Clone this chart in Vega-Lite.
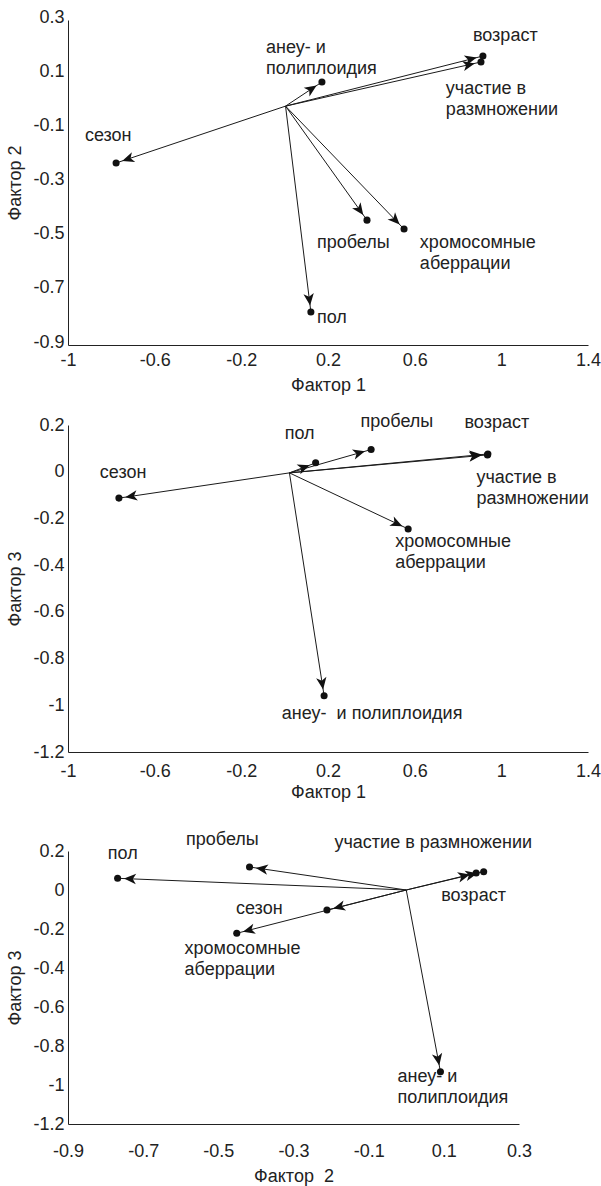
{
  "$schema": "https://vega.github.io/schema/vega-lite/v6.json",
  "background": "white",
  "padding": {"left": 6, "top": 8, "right": 5, "bottom": 5},
  "config": {
    "view": {"stroke": null},
    "font": "Liberation Sans",
    "axis": {"grid": false, "ticks": false, "domainColor": "#222", "domainWidth": 1, "labelFontSize": 18, "titleFontSize": 18, "titleFontWeight": "normal", "labelColor": "#222", "titleColor": "#222", "labelFont": "Liberation Sans", "titleFont": "Liberation Sans", "labelFlush": false, "labelOverlap": false, "tickCount": 12}
  },
  "datasets": {
    "v1": [
      {"var": "сезон", "x0": 0.004, "y0": -0.018, "x": -0.778, "y": -0.228},
      {"var": "анеу- и полиплоидия", "x0": 0.004, "y0": -0.018, "x": 0.172, "y": 0.071},
      {"var": "возраст", "x0": 0.004, "y0": -0.018, "x": 0.915, "y": 0.167},
      {"var": "участие в размножении", "x0": 0.004, "y0": -0.018, "x": 0.906, "y": 0.145},
      {"var": "пробелы", "x0": 0.004, "y0": -0.018, "x": 0.38, "y": -0.439},
      {"var": "хромосомные аберрации", "x0": 0.004, "y0": -0.018, "x": 0.551, "y": -0.472},
      {"var": "пол", "x0": 0.004, "y0": -0.018, "x": 0.121, "y": -0.778}
    ],
    "t1": [
      {"label": "анеу- и\nполиплоидия", "lx": -0.086, "ly": 0.197},
      {"label": "возраст", "lx": 0.869, "ly": 0.241},
      {"label": "участие в\nразмножении", "lx": 0.744, "ly": 0.045},
      {"label": "сезон", "lx": -0.922, "ly": -0.128},
      {"label": "пробелы", "lx": 0.149, "ly": -0.523},
      {"label": "хромосомные\nаберрации", "lx": 0.624, "ly": -0.523},
      {"label": "пол", "lx": 0.149, "ly": -0.8}
    ],
    "v2": [
      {"var": "сезон", "x0": 0.022, "y0": -0.005, "x": -0.765, "y": -0.113},
      {"var": "пол", "x0": 0.022, "y0": -0.005, "x": 0.143, "y": 0.038},
      {"var": "пробелы", "x0": 0.022, "y0": -0.005, "x": 0.399, "y": 0.095},
      {"var": "возраст", "x0": 0.022, "y0": -0.005, "x": 0.938, "y": 0.076},
      {"var": "участие в размножении", "x0": 0.022, "y0": -0.005, "x": 0.936, "y": 0.072},
      {"var": "хромосомные аберрации", "x0": 0.022, "y0": -0.005, "x": 0.57, "y": -0.245},
      {"var": "анеу- и полиплоидия", "x0": 0.022, "y0": -0.005, "x": 0.182, "y": -0.959}
    ],
    "t2": [
      {"label": "сезон", "lx": -0.853, "ly": -0.007},
      {"label": "пол", "lx": 0.0, "ly": 0.16},
      {"label": "пробелы", "lx": 0.35, "ly": 0.212},
      {"label": "возраст", "lx": 0.83, "ly": 0.208},
      {"label": "участие в\nразмножении", "lx": 0.885, "ly": -0.029},
      {"label": "хромосомные\nаберрации", "lx": 0.51, "ly": -0.3},
      {"label": "анеу-\u00a0 и полиплоидия", "lx": -0.013, "ly": -1.036}
    ],
    "v3": [
      {"var": "пол", "x0": 0.0, "y0": 0.0, "x": -0.768, "y": 0.06},
      {"var": "пробелы", "x0": 0.0, "y0": 0.0, "x": -0.417, "y": 0.118},
      {"var": "участие в размножении", "x0": 0.0, "y0": 0.0, "x": 0.206, "y": 0.094},
      {"var": "возраст", "x0": 0.0, "y0": 0.0, "x": 0.186, "y": 0.087},
      {"var": "сезон", "x0": 0.0, "y0": 0.0, "x": -0.211, "y": -0.103},
      {"var": "хромосомные аберрации", "x0": 0.0, "y0": 0.0, "x": -0.451, "y": -0.222},
      {"var": "анеу- и полиплоидия", "x0": 0.0, "y0": 0.0, "x": 0.091, "y": -0.932}
    ],
    "t3": [
      {"label": "пол", "lx": -0.794, "ly": 0.183},
      {"label": "пробелы", "lx": -0.586, "ly": 0.256},
      {"label": "участие в размножении", "lx": -0.191, "ly": 0.243},
      {"label": "возраст", "lx": 0.093, "ly": -0.031},
      {"label": "сезон", "lx": -0.453, "ly": -0.096},
      {"label": "хромосомные\nаберрации", "lx": -0.59, "ly": -0.304},
      {"label": "анеу- и\nполиплоидия", "lx": -0.023, "ly": -0.957}
    ]
  },
  "vconcat": [
    {
      "bounds": "flush",
      "spacing": 80,
      "vconcat": [
        {
          "width": 520,
          "height": 325,
          "layer": [
            {
              "data": {"name": "v1"},
              "mark": {"type": "rule", "color": "#1a1a1a", "strokeWidth": 1},
              "encoding": {
                "x": {"field": "x0", "type": "quantitative", "scale": {"domain": [-1, 1.4], "nice": false, "zero": false}, "axis": {"title": "Фактор 1", "values": [-1, -0.6, -0.2, 0.2, 0.6, 1, 1.4], "labelExpr": "replace(format(datum.value, '.1~f'), '\u2212', '-')", "labelPadding": 6, "titlePadding": 7, "labelOverlap": false, "tickCount": 12}},
                "y": {"field": "y0", "type": "quantitative", "scale": {"domain": [-0.9, 0.3], "nice": false, "zero": false}, "axis": {"title": "Фактор 2", "values": [0.3, 0.1, -0.1, -0.3, -0.5, -0.7, -0.9], "labelExpr": "replace(format(datum.value, '.1~f'), '\u2212', '-')", "labelPadding": 4, "titlePadding": 8, "labelOffset": -3, "labelOverlap": false, "tickCount": 12}},
                "x2": {"field": "x"},
                "y2": {"field": "y"}
              }
            },
            {
              "data": {"name": "v1"},
              "mark": {"type": "point", "filled": true, "shape": "circle", "size": 50, "color": "#111", "opacity": 1},
              "encoding": {
                "x": {"field": "x", "type": "quantitative", "title": "Фактор 1"},
                "y": {"field": "y", "type": "quantitative", "title": "Фактор 2"}
              }
            },
            {
              "data": {"name": "v1"},
              "transform": [{"calculate": "atan2((datum.x - datum.x0) * 216.7, (datum.y - datum.y0) * 270.8) * 180 / PI", "as": "ang"}],
              "mark": {"type": "point", "filled": true, "shape": "M0,0.8L0.65,2.3L0,1.9L-0.65,2.3Z", "size": 256, "color": "#111", "opacity": 1},
              "encoding": {
                "x": {"field": "x", "type": "quantitative", "title": "Фактор 1"},
                "y": {"field": "y", "type": "quantitative", "title": "Фактор 2"},
                "angle": {"field": "ang", "type": "quantitative", "scale": null}
              }
            },
            {
              "data": {"name": "t1"},
              "mark": {"type": "text", "align": "left", "baseline": "middle", "fontSize": 18, "lineBreak": "\n", "lineHeight": 21, "color": "#222"},
              "encoding": {
                "x": {"field": "lx", "type": "quantitative", "title": "Фактор 1"},
                "y": {"field": "ly", "type": "quantitative", "title": "Фактор 2"},
                "text": {"field": "label", "type": "nominal"}
              }
            }
          ]
        },
        {
          "width": 520,
          "height": 327,
          "layer": [
            {
              "data": {"name": "v2"},
              "mark": {"type": "rule", "color": "#1a1a1a", "strokeWidth": 1},
              "encoding": {
                "x": {"field": "x0", "type": "quantitative", "scale": {"domain": [-1, 1.4], "nice": false, "zero": false}, "axis": {"title": "Фактор 1", "values": [-1, -0.6, -0.2, 0.2, 0.6, 1, 1.4], "labelExpr": "replace(format(datum.value, '.1~f'), '\u2212', '-')", "labelPadding": 10, "titlePadding": 3, "labelOverlap": false, "tickCount": 12}},
                "y": {"field": "y0", "type": "quantitative", "scale": {"domain": [-1.2, 0.2], "nice": false, "zero": false}, "axis": {"title": "Фактор 3", "values": [0.2, 0, -0.2, -0.4, -0.6, -0.8, -1, -1.2], "labelExpr": "replace(format(datum.value, '.1~f'), '\u2212', '-')", "labelPadding": 4, "titlePadding": 8, "labelOverlap": false, "tickCount": 12}},
                "x2": {"field": "x"},
                "y2": {"field": "y"}
              }
            },
            {
              "data": {"name": "v2"},
              "mark": {"type": "point", "filled": true, "shape": "circle", "size": 50, "color": "#111", "opacity": 1},
              "encoding": {
                "x": {"field": "x", "type": "quantitative", "title": "Фактор 1"},
                "y": {"field": "y", "type": "quantitative", "title": "Фактор 3"}
              }
            },
            {
              "data": {"name": "v2"},
              "transform": [{"calculate": "atan2((datum.x - datum.x0) * 216.7, (datum.y - datum.y0) * 233.6) * 180 / PI", "as": "ang"}],
              "mark": {"type": "point", "filled": true, "shape": "M0,0.8L0.65,2.3L0,1.9L-0.65,2.3Z", "size": 256, "color": "#111", "opacity": 1},
              "encoding": {
                "x": {"field": "x", "type": "quantitative", "title": "Фактор 1"},
                "y": {"field": "y", "type": "quantitative", "title": "Фактор 3"},
                "angle": {"field": "ang", "type": "quantitative", "scale": null}
              }
            },
            {
              "data": {"name": "t2"},
              "mark": {"type": "text", "align": "left", "baseline": "middle", "fontSize": 18, "lineBreak": "\n", "lineHeight": 21, "color": "#222"},
              "encoding": {
                "x": {"field": "lx", "type": "quantitative", "title": "Фактор 1"},
                "y": {"field": "ly", "type": "quantitative", "title": "Фактор 3"},
                "text": {"field": "label", "type": "nominal"}
              }
            }
          ]
        }
      ]
    },
    {
      "width": 451,
      "height": 273,
      "layer": [
        {
          "data": {"name": "v3"},
          "mark": {"type": "rule", "color": "#1a1a1a", "strokeWidth": 1},
          "encoding": {
            "x": {"field": "x0", "type": "quantitative", "scale": {"domain": [-0.9, 0.3], "nice": false, "zero": false}, "axis": {"title": "Фактор\u00a0 2", "values": [-0.9, -0.7, -0.5, -0.3, -0.1, 0.1, 0.3], "labelExpr": "replace(format(datum.value, '.1~f'), '\u2212', '-')", "labelPadding": 18, "titlePadding": 7, "labelOverlap": false, "tickCount": 12}},
            "y": {"field": "y0", "type": "quantitative", "scale": {"domain": [-1.2, 0.2], "nice": false, "zero": false}, "axis": {"title": "Фактор 3", "values": [0.2, 0, -0.2, -0.4, -0.6, -0.8, -1, -1.2], "labelExpr": "replace(format(datum.value, '.1~f'), '\u2212', '-')", "labelPadding": 4, "titlePadding": 8, "labelOverlap": false, "tickCount": 12}},
            "x2": {"field": "x"},
            "y2": {"field": "y"}
          }
        },
        {
          "data": {"name": "v3"},
          "mark": {"type": "point", "filled": true, "shape": "circle", "size": 50, "color": "#111", "opacity": 1},
          "encoding": {
            "x": {"field": "x", "type": "quantitative", "title": "Фактор\u00a0 2"},
            "y": {"field": "y", "type": "quantitative", "title": "Фактор 3"}
          }
        },
        {
          "data": {"name": "v3"},
          "transform": [{"calculate": "atan2((datum.x - datum.x0) * 375.8, (datum.y - datum.y0) * 195) * 180 / PI", "as": "ang"}],
          "mark": {"type": "point", "filled": true, "shape": "M0,0.8L0.65,2.3L0,1.9L-0.65,2.3Z", "size": 256, "color": "#111", "opacity": 1},
          "encoding": {
            "x": {"field": "x", "type": "quantitative", "title": "Фактор\u00a0 2"},
            "y": {"field": "y", "type": "quantitative", "title": "Фактор 3"},
            "angle": {"field": "ang", "type": "quantitative", "scale": null}
          }
        },
        {
          "data": {"name": "t3"},
          "mark": {"type": "text", "align": "left", "baseline": "middle", "fontSize": 18, "lineBreak": "\n", "lineHeight": 21, "color": "#222"},
          "encoding": {
            "x": {"field": "lx", "type": "quantitative", "title": "Фактор\u00a0 2"},
            "y": {"field": "ly", "type": "quantitative", "title": "Фактор 3"},
            "text": {"field": "label", "type": "nominal"}
          }
        }
      ]
    }
  ],
  "spacing": 30
}
